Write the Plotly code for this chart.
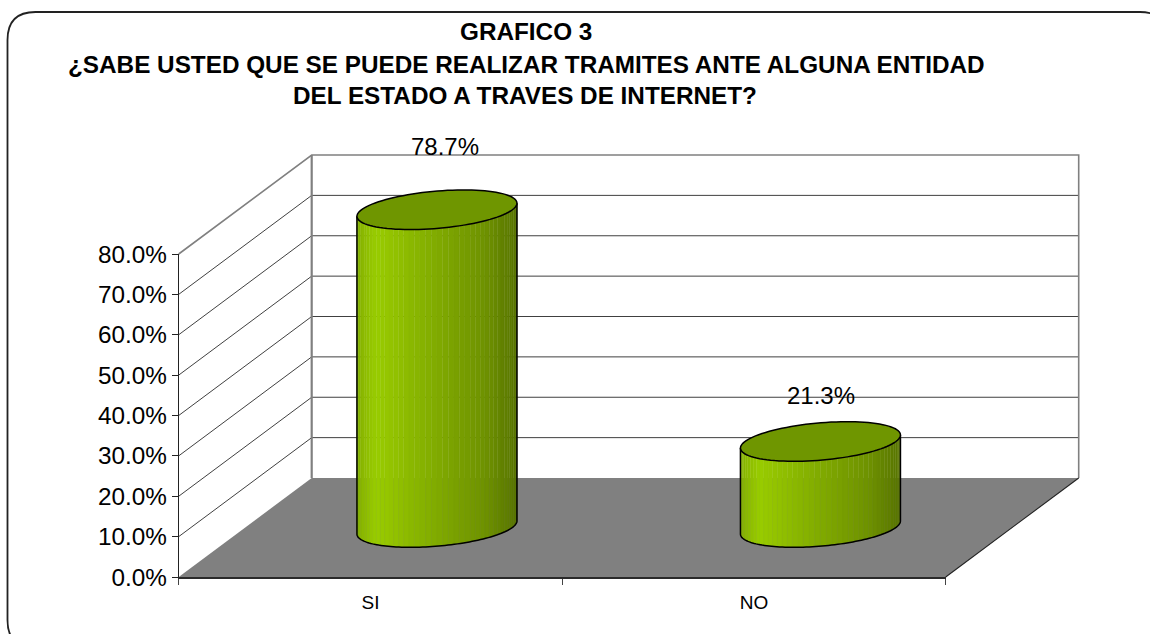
import numpy as np
import plotly.graph_objects as go

# ---- data ----
categories = ["SI", "NO"]
values = [78.7, 21.3]
value_labels = ["78.7%", "21.3%"]
y_ticks = [0, 10, 20, 30, 40, 50, 60, 70, 80]
y_tick_labels = ["0.0%", "10.0%", "20.0%", "30.0%", "40.0%", "50.0%", "60.0%", "70.0%", "80.0%"]
title_lines = ["GRAFICO 3",
               "¿SABE USTED QUE SE PUEDE REALIZAR TRAMITES ANTE ALGUNA ENTIDAD",
               "DEL ESTADO A TRAVES DE INTERNET?"]

# ---- layout geometry (pixels of the 1150x634 page) ----
W, H = 1150, 634
PX0, PX1 = 178.7, 945.7      # front edge of the floor
PY0, PY80 = 577.0, 254.0     # 0 % and 80 % on the front axis
DX, DY = 133.0, 99.0         # oblique depth offset of the back wall
XMAX = float(len(categories))
YMAX = 80.0
sx = (PX1 - PX0) / XMAX      # px per category
sy = (PY0 - PY80) / YMAX     # px per percent
ddx, ddy = DX / sx, DY / sy  # depth vector in axis units
FONT = "Liberation Sans"


def proj(x, v, d=0.0):
    """x category units, v percent, d depth 0..1 -> overlay axis coordinates."""
    return x + d * ddx, v + d * ddy


fig = go.Figure()


def poly(xs, ys, fill=None, color=None, width=0):
    fig.add_trace(go.Scatter(
        x=xs, y=ys, mode="lines", xaxis="x", yaxis="y", hoverinfo="skip", showlegend=False,
        fill="toself" if fill else None, fillcolor=fill,
        line=dict(color=color or "rgba(0,0,0,0)", width=width, simplify=False)))


# floor
fx, fy = zip(*[proj(0, 0, 0), proj(XMAX, 0, 0), proj(XMAX, 0, 1), proj(0, 0, 1), proj(0, 0, 0)])
poly(list(fx), list(fy), fill="#808080")

# grid lines on side wall and back wall
for v in y_ticks[1:-1]:
    a, b, c = proj(0, v, 0), proj(0, v, 1), proj(XMAX, v, 1)
    poly([a[0], b[0], c[0]], [a[1], b[1], c[1]], color="#2a2a2a", width=0.9)

# wall frame
a, b, c, d, e = proj(0, 80, 0), proj(0, 80, 1), proj(XMAX, 80, 1), proj(XMAX, 0, 1), proj(0, 0, 1)
poly([a[0], b[0], c[0], d[0]], [a[1], b[1], c[1], d[1]], color="#808080", width=1.6)
poly([b[0], e[0]], [b[1], e[1]], color="#808080", width=2.2)

# right floor edge
a, b = proj(XMAX, 0, 0), proj(XMAX, 0, 1)
poly([a[0], b[0]], [a[1], b[1]], color="#222222", width=1.1)

# cylinders (oblique projection of a circle lying in the floor plane)
HW = 80.0 / sx                     # half of the visual width, category units
DEPTH_R = 0.2                      # circle radius along depth, fraction of full depth
bx, by = DEPTH_R * ddx, DEPTH_R * ddy
ax = np.sqrt(HW ** 2 - bx ** 2)
t_left = np.pi + np.arctan2(bx, ax)   # angle of left silhouette
t_right = np.arctan2(bx, ax)


def ring(cx, base, t):
    return cx + ax * np.cos(t) + bx * np.sin(t), base + by * np.sin(t)


def shade(frac):
    stops = [(0.0, (132, 176, 0)), (0.12, (153, 204, 0)), (0.5, (128, 170, 0)),
             (0.8, (110, 146, 0)), (1.0, (88, 116, 0))]
    for (f0, c0), (f1, c1) in zip(stops, stops[1:]):
        if frac <= f1:
            k = (frac - f0) / (f1 - f0)
            return "rgb(%d,%d,%d)" % tuple(round(p + k * (q - p)) for p, q in zip(c0, c1))
    return "rgb(88,116,0)"


N = 44
for i, val in enumerate(values):
    cx = i + 0.5 + 0.5 * ddx
    base = 0.5 * ddy
    top = base + val
    # t runs along the front half, from left silhouette to right silhouette
    ts = np.linspace(t_left, t_right + 2 * np.pi, N + 1)
    xs_edge = ring(cx, 0, ts)[0]
    for k in range(N):
        ss = np.linspace(ts[k], ts[k + 1], 3)
        xb, yb = ring(cx, base, ss)
        xt, yt = ring(cx, top, ss)
        frac = ((xs_edge[k] + xs_edge[k + 1]) / 2 - (cx - HW)) / (2 * HW)
        poly(list(xb) + list(xt[::-1]) + [xb[0]], list(yb) + list(yt[::-1]) + [yb[0]],
             fill=shade(frac), color=shade(frac), width=0.4)
    # outline of the side
    ss = np.linspace(t_left, t_right + 2 * np.pi, 80)
    xb, yb = ring(cx, base, ss)
    poly([ring(cx, top, t_left)[0]] + list(xb) + [ring(cx, top, t_right)[0]],
         [ring(cx, top, t_left)[1]] + list(yb) + [ring(cx, top, t_right)[1]],
         color="#000000", width=1.5)
    # top ellipse
    ss = np.linspace(0, 2 * np.pi, 100)
    xt, yt = ring(cx, top, ss)
    poly(list(xt), list(yt), fill="#6f9600", color="#000000", width=1.5)

# value labels
label_pos = [(444.5, 146), (820.5, 395)]
for text, (px, py) in zip(value_labels, label_pos):
    fig.add_annotation(text=text, x=px / W, y=1 - py / H, xref="paper", yref="paper",
                       showarrow=False, xanchor="center", yanchor="middle",
                       font=dict(family=FONT, size=24, color="#000000"))

# title
title_pos = [(526, 31), (526.5, 64), (524.5, 96)]
for text, (px, py) in zip(title_lines, title_pos):
    fig.add_annotation(text="<b>%s</b>" % text, x=px / W, y=1 - py / H, xref="paper", yref="paper",
                       showarrow=False, xanchor="center", yanchor="middle",
                       font=dict(family=FONT, size=24.3, color="#000000"))

# rounded chart frame, runs off the page to the right and bottom
L, T, R, B, r = 7.5, 12.0, 1168.0, 648.0, 28.0
def X(p): return p / W
def Y(p): return 1 - p / H
path = (f"M {X(L)} {Y(T + r)} Q {X(L)} {Y(T)} {X(L + r)} {Y(T)} L {X(R - r)} {Y(T)} "
        f"Q {X(R)} {Y(T)} {X(R)} {Y(T + r)} L {X(R)} {Y(B - r)} Q {X(R)} {Y(B)} {X(R - r)} {Y(B)} "
        f"L {X(L + r)} {Y(B)} Q {X(L)} {Y(B)} {X(L)} {Y(B - r)} Z")
fig.add_shape(type="path", path=path, xref="paper", yref="paper", layer="below",
              line=dict(color="#222222", width=1.8))

# front axes carry the real ticks and labels
fig.add_trace(go.Scatter(x=[0.5, 1.5], y=[None, None], xaxis="x2", yaxis="y2",
                         mode="markers", showlegend=False, hoverinfo="skip"))

fig.update_layout(
    template="none",
    width=W, height=H, margin=dict(l=0, r=0, t=0, b=0, pad=0), autosize=False,
    paper_bgcolor="#ffffff", plot_bgcolor="rgba(0,0,0,0)", showlegend=False,
    font=dict(family=FONT, color="#000000"),
    xaxis2=dict(domain=[PX0 / W, PX1 / W], range=[0, XMAX], anchor="y2", automargin=False,
                tickmode="array", tickvals=[0.5, 1.5], ticktext=categories, ticks="",
                tickfont=dict(family=FONT, size=19), showgrid=False, zeroline=False,
                showline=True, linecolor="#2a2a2a", linewidth=2, ticklabelstandoff=7,
                minor=dict(tickmode="array", tickvals=[0, 1, 2], ticks="outside", ticklen=6,
                           tickcolor="#444444", tickwidth=1, showgrid=False)),
    yaxis2=dict(domain=[1 - PY0 / H, 1 - PY80 / H], range=[0, YMAX], anchor="x2", automargin=False,
                tickmode="array", tickvals=y_ticks, ticktext=y_tick_labels, ticks="outside",
                ticklen=6, tickcolor="#222222", tickwidth=1,
                tickfont=dict(family=FONT, size=24.3), showgrid=False, zeroline=False,
                showline=True, linecolor="#222222", linewidth=1),
    xaxis=dict(domain=[0, 1], range=[-PX0 / sx, (W - PX0) / sx], anchor="y",
               visible=False, fixedrange=True, automargin=False),
    yaxis=dict(domain=[0, 1], range=[-(H - PY0) / sy, PY0 / sy], anchor="x",
               visible=False, fixedrange=True, automargin=False),
)

fig.write_html("out.html", config=dict(displayModeBar=False),
               post_script="document.body.style.margin='0';document.body.style.overflow='hidden';")
